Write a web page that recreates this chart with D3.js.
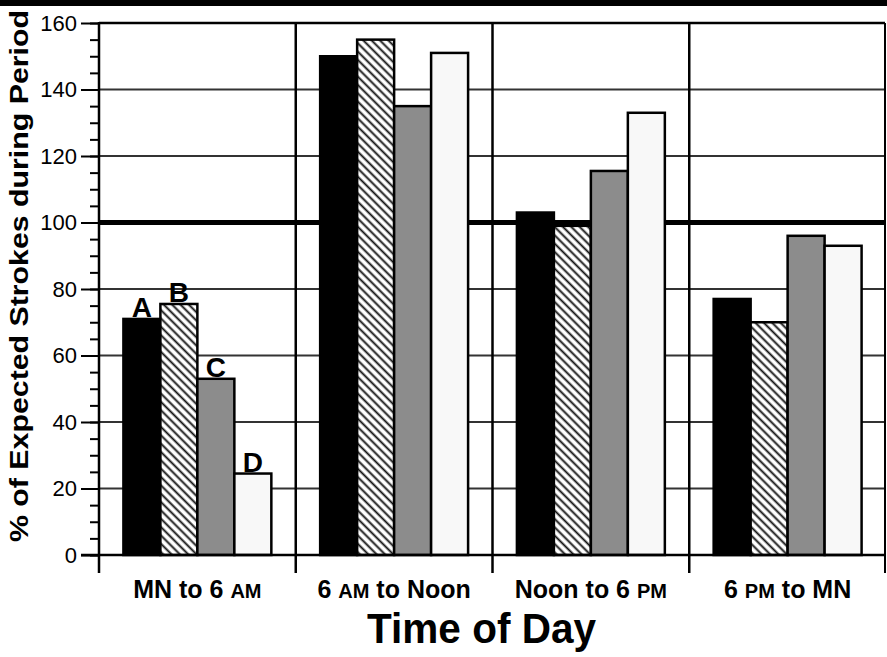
<!DOCTYPE html>
<html>
<head>
<meta charset="utf-8">
<script src="https://cdn.jsdelivr.net/npm/d3@7"></script>
<style>
  html, body { margin: 0; padding: 0; background: #fff; }
  svg { display: block; font-family: "Liberation Sans", Arial, Helvetica, sans-serif; }
</style>
</head>
<body>
<svg id="chart" width="887" height="657"></svg>
<script>
// ---- data ----
const categories = ["MN to 6 AM", "6 AM to Noon", "Noon to 6 PM", "6 PM to MN"];
const seriesNames = ["A", "B", "C", "D"];
const seriesA = [71, 150, 103, 77];
const seriesB = [75.5, 155, 99, 70];
const seriesC = [53, 135, 115.5, 96];
const seriesD = [24.5, 151, 133, 93];
const yTicksMajor = [0, 20, 40, 60, 80, 100, 120, 140, 160];
const gridValues = [20, 40, 60, 80, 120, 140];
const referenceValue = 100;
const yTitle = "% of Expected Strokes during Period";
const xTitle = "Time of Day";

const seriesValues = [seriesA, seriesB, seriesC, seriesD];

(function () {
// ---- layout ----
const W = 887, H = 657;
const mLeft = 99, mRight = 885, mTop = 23, mBottom = 555;

const svg = d3.select("#chart");
svg.append("rect").attr("width", W).attr("height", H).attr("fill", "#fff");
svg.append("rect").attr("x", 0).attr("y", 0).attr("width", W).attr("height", 6).attr("fill", "#000");

const defs = svg.append("defs");
const hs = 5.9;
const hatch = defs.append("pattern")
  .attr("id", "hatch").attr("patternUnits", "userSpaceOnUse")
  .attr("width", hs).attr("height", hs)
  .attr("patternTransform", "rotate(-45)");
hatch.append("rect").attr("width", hs).attr("height", hs).attr("fill", "#fff");
hatch.append("line").attr("x1", 1.5).attr("y1", 0).attr("x2", 1.5).attr("y2", hs)
  .attr("stroke", "#111").attr("stroke-width", 1.9);

const fills = { A: "#000", B: "url(#hatch)", C: "#8c8c8c", D: "#f8f8f8" };

const y = d3.scaleLinear().domain([0, 160]).range([mBottom, mTop]);
const x0 = d3.scaleBand().domain(categories).range([mLeft, 886]).paddingInner(0).paddingOuter(0);
const x1 = d3.scaleBand().domain(seriesNames).range([0, x0.bandwidth()]).paddingInner(0).paddingOuter(0.66);

// gridlines
svg.append("g").selectAll("line").data(gridValues).join("line")
  .attr("x1", mLeft).attr("x2", mRight)
  .attr("y1", d => y(d)).attr("y2", d => y(d))
  .attr("stroke", "#333").attr("stroke-width", 1.8);

// reference line
svg.append("line")
  .attr("x1", mLeft).attr("x2", mRight)
  .attr("y1", y(referenceValue)).attr("y2", y(referenceValue))
  .attr("stroke", "#000").attr("stroke-width", 5);

// bars
const rows = categories.map((c, i) => ({ cat: c, vals: seriesNames.map((s, j) => ({ s, v: seriesValues[j][i] })) }));
const groups = svg.append("g").selectAll("g").data(rows).join("g")
  .attr("transform", d => `translate(${x0(d.cat)},0)`);

groups.selectAll("rect").data(d => d.vals).join("rect")
  .attr("x", d => x1(d.s))
  .attr("width", x1.bandwidth())
  .attr("y", d => y(d.v))
  .attr("height", d => y(0) - y(d.v))
  .attr("fill", d => fills[d.s])
  .attr("stroke", "#000").attr("stroke-width", 2.5);

// series letters on first group
groups.filter((d, i) => i === 0).selectAll("text").data(d => d.vals).join("text")
  .attr("x", d => x1(d.s) + x1.bandwidth() / 2)
  .attr("y", d => y(d.v) - 2)
  .attr("text-anchor", "middle")
  .attr("font-size", 28).attr("font-weight", "bold")
  .text(d => d.s);

// top border
svg.append("line").attr("x1", mLeft).attr("x2", mRight).attr("y1", y(160)).attr("y2", y(160))
  .attr("stroke", "#000").attr("stroke-width", 2.5);
// right border
svg.append("line").attr("x1", mRight).attr("x2", mRight).attr("y1", y(160)).attr("y2", mBottom + 18)
  .attr("stroke", "#000").attr("stroke-width", 2);

// vertical dividers + x ticks
const bounds = categories.map(c => x0(c));
svg.append("g").selectAll("line").data(bounds.slice(1)).join("line")
  .attr("x1", d => d).attr("x2", d => d)
  .attr("y1", y(160)).attr("y2", mBottom + 18)
  .attr("stroke", "#000").attr("stroke-width", 2.5);

// left axis
svg.append("line").attr("x1", mLeft).attr("x2", mLeft).attr("y1", y(160) - 1).attr("y2", mBottom + 18)
  .attr("stroke", "#000").attr("stroke-width", 2.5);
// x-axis baseline
svg.append("line").attr("x1", mLeft - 18).attr("x2", mRight).attr("y1", mBottom).attr("y2", mBottom)
  .attr("stroke", "#000").attr("stroke-width", 2.5);

// y axis ticks via d3 axis
const yAxisMinor = d3.axisLeft(y).tickValues(d3.range(0, 161, 5)).tickSize(9).tickFormat("");
const gMinor = svg.append("g").attr("transform", `translate(${mLeft},0)`).call(yAxisMinor);
gMinor.select(".domain").remove();
gMinor.selectAll("line").attr("stroke", "#000").attr("stroke-width", 2);

const yAxisMajor = d3.axisLeft(y).tickValues(yTicksMajor).tickSize(18).tickPadding(4);
const gMajor = svg.append("g").attr("transform", `translate(${mLeft},0)`).call(yAxisMajor);
gMajor.select(".domain").remove();
gMajor.selectAll("line").attr("stroke", "#000").attr("stroke-width", 2);
gMajor.selectAll("text").attr("font-size", 22).attr("fill", "#000")
  .attr("font-family", "'Liberation Sans', Arial, Helvetica, sans-serif");

// x category labels with small caps AM/PM
const xl = svg.append("g").selectAll("text").data(categories).join("text")
  .attr("x", d => x0(d) + x0.bandwidth() / 2)
  .attr("y", 598)
  .attr("text-anchor", "middle")
  .attr("font-size", 25).attr("font-weight", "bold");
xl.each(function (d) {
  const t = d3.select(this);
  d.split(/(AM|PM)/).forEach(part => {
    if (!part) return;
    const ts = t.append("tspan").text(part);
    if (part === "AM" || part === "PM") ts.attr("font-size", 20);
  });
});

// x title
svg.append("text").attr("x", 481.5).attr("y", 643)
  .attr("text-anchor", "middle")
  .attr("font-size", 42).attr("font-weight", "bold")
  .attr("textLength", 229).attr("lengthAdjust", "spacingAndGlyphs")
  .text(xTitle);

// y title
svg.append("text")
  .attr("transform", "translate(28,276) rotate(-90)")
  .attr("text-anchor", "middle")
  .attr("font-size", 25).attr("font-weight", "bold")
  .attr("textLength", 532).attr("lengthAdjust", "spacingAndGlyphs")
  .text(yTitle);
})();
</script>
</body>
</html>
